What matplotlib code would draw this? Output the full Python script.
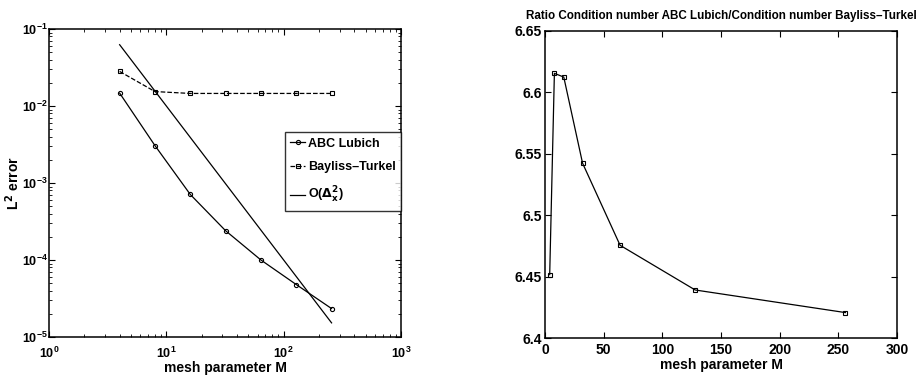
"""
Convergence of ABC Lubich vs Bayliss-Turkel, and ratio of condition numbers.
"""

import numpy as np
import matplotlib
matplotlib.use("Agg")
import matplotlib.pyplot as plt

plt.rcParams["font.family"] = ["Liberation Sans", "DejaVu Sans"]
plt.rcParams["font.weight"] = "bold"
plt.rcParams["mathtext.default"] = "bf"
plt.rcParams["xtick.direction"] = "in"
plt.rcParams["ytick.direction"] = "in"

# mesh parameter M
mesh = [4, 8, 16, 32, 64, 128, 256]

# L2 errors
err_lubich = [1.47e-2, 3.06e-3, 7.1e-4, 2.4e-4, 1.0e-4, 4.8e-5, 2.34e-5]
err_bayliss = [2.81e-2, 1.54e-2, 1.456e-2, 1.456e-2, 1.456e-2, 1.456e-2, 1.456e-2]
ref_order2 = [1 / m**2 for m in mesh]  # O(dx^2) reference slope

# ratio of condition numbers
ratio_cond = [6.4516, 6.6155, 6.6125, 6.5424, 6.4755, 6.4391, 6.4207]

fig = plt.figure(figsize=(9.21, 3.83), dpi=100)
W, H = 921.0, 383.0

# --- left: error vs mesh parameter
ax = fig.add_axes([49 / W, 1 - 337 / H, 352 / W, 308 / H])
ax.loglog(mesh, err_lubich, "-", color="k", lw=0.9, marker="o", ms=3,
          mfc="none", mew=0.8, label="ABC Lubich")
ax.loglog(mesh, err_bayliss, "--", color="k", lw=0.9, marker="s", ms=2.5,
          mfc="none", mew=0.8, label="Bayliss\u2013Turkel")
ax.loglog(mesh, ref_order2, "-", color="k", lw=0.9, label=r"O($\Delta_x^2$)")
ax.set_xlim(1, 1000)
ax.set_ylim(1e-5, 1e-1)
ax.set_xlabel("mesh parameter M", fontsize=10, fontweight="bold", labelpad=0)
ax.set_ylabel(r"L$^2$ error", fontsize=10, fontweight="bold")
ax.yaxis.set_label_coords(-0.078, 0.5)
ax.tick_params(which="both", top=True, right=True, labelsize=9)
ax.tick_params(axis="y", which="both", pad=1)
ax.tick_params(axis="x", which="both", pad=6)
ax.tick_params(which="major", length=4)
ax.tick_params(which="minor", length=2)
leg = ax.legend(loc="lower right", bbox_to_anchor=(1.0, 0.409), fontsize=9,
                frameon=True, fancybox=False, edgecolor="k", handlelength=1.2,
                handletextpad=0.2, borderpad=0.45, labelspacing=0.95,
                borderaxespad=0)
leg.get_frame().set_linewidth(1.0)
for s in ax.spines.values():
    s.set_linewidth(1.1)

# --- right: condition number ratio
ax2 = fig.add_axes([545 / W, 1 - 338 / H, 352 / W, 307 / H])
ax2.plot(mesh, ratio_cond, "-", color="k", lw=0.9, marker="s", ms=3,
         mfc="none", mew=0.8)
ax2.set_xlim(0, 300)
ax2.set_ylim(6.4, 6.65)
ax2.set_xticks([0, 50, 100, 150, 200, 250, 300])
ax2.set_yticks([6.4, 6.45, 6.5, 6.55, 6.6, 6.65])
ax2.set_yticklabels(["6.4", "6.45", "6.5", "6.55", "6.6", "6.65"])
ax2.set_xlabel("mesh parameter M", fontsize=10, fontweight="bold", labelpad=1)
ax2.set_title("Ratio Condition number ABC Lubich/Condition number Bayliss\u2013Turkel",
              fontsize=8.4, fontweight="bold", pad=9)
ax2.tick_params(which="both", top=True, right=True, labelsize=10, length=4)
ax2.tick_params(axis="y", pad=2)
for s in ax2.spines.values():
    s.set_linewidth(1.1)

fig.savefig("out.png", dpi=100)
